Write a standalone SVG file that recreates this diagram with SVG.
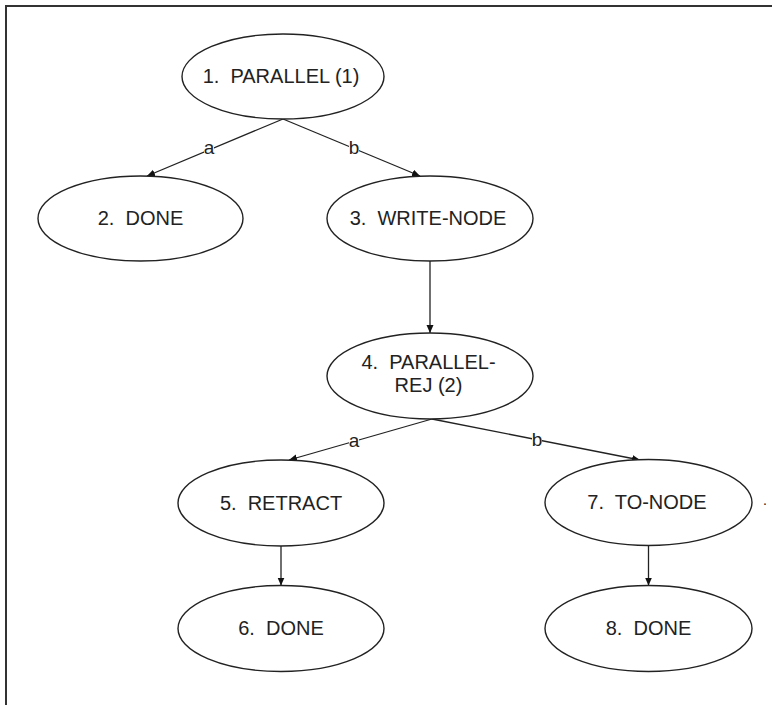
<svg xmlns="http://www.w3.org/2000/svg" width="772" height="705" viewBox="0 0 772 705">
<style>
.node ellipse{fill:#fff;stroke:#222;stroke-width:1.4}
.node text{font-family:"Liberation Sans",Arial,sans-serif;font-size:20px;fill:#222;text-anchor:middle}
.edge{stroke:#222;stroke-width:1.3;fill:none}
.lbl{font-family:"Liberation Sans",Arial,sans-serif;font-size:19px;fill:#222;text-anchor:middle}
.lblbg{fill:#fff}
</style>
<defs>
<marker id="arr" markerWidth="9" markerHeight="8" refX="8" refY="3.5" orient="auto" markerUnits="userSpaceOnUse">
<path d="M0,0 L8,3.5 L0,7 z" fill="#111"/>
</marker>
</defs>
<rect x="0" y="0" width="772" height="705" fill="#fff"/>
<path d="M6,705 L6,6 L772,6" fill="none" stroke="#333" stroke-width="2"/>
<g id="connectors">
<line class="edge" x1="283" y1="119" x2="147" y2="176" marker-end="url(#arr)"/>
<line class="edge" x1="283" y1="119" x2="420" y2="176" marker-end="url(#arr)"/>
<line class="edge" x1="430" y1="261" x2="430" y2="333" marker-end="url(#arr)"/>
<line class="edge" x1="432" y1="419" x2="289" y2="460" marker-end="url(#arr)"/>
<line class="edge" x1="432" y1="419" x2="640" y2="460" marker-end="url(#arr)"/>
<line class="edge" x1="281" y1="546" x2="281" y2="585.5" marker-end="url(#arr)"/>
<line class="edge" x1="648.5" y1="545.5" x2="648.5" y2="585.5" marker-end="url(#arr)"/>
<rect class="lblbg" x="204" y="141" width="10" height="12"/>
<text class="lbl" x="209" y="154">a</text>
<rect class="lblbg" x="349" y="138" width="10" height="16"/>
<text class="lbl" x="354" y="154">b</text>
<rect class="lblbg" x="349" y="434" width="10" height="12"/>
<text class="lbl" x="354" y="447">a</text>
<rect class="lblbg" x="532" y="430" width="10" height="16"/>
<text class="lbl" x="537" y="446">b</text>
</g>
<g id="n1" class="node"><ellipse cx="283" cy="76.5" rx="101" ry="42.5"/><text x="281" y="83" xml:space="preserve">1.  PARALLEL (1)</text></g>
<g id="n2" class="node"><ellipse cx="140.5" cy="218.5" rx="102.5" ry="42.5"/><text x="140.5" y="225" xml:space="preserve">2.  DONE</text></g>
<g id="n3" class="node"><ellipse cx="430" cy="218.5" rx="103" ry="42.5"/><text x="428" y="225" xml:space="preserve">3.  WRITE-NODE</text></g>
<g id="n4" class="node"><ellipse cx="430" cy="376" rx="103" ry="43"/><text x="428.5" y="368.5" xml:space="preserve">4.  PARALLEL-</text><text x="428.5" y="392">REJ (2)</text></g>
<g id="n5" class="node"><ellipse cx="281" cy="503" rx="103" ry="43"/><text x="281" y="509.5" xml:space="preserve">5.  RETRACT</text></g>
<g id="n7" class="node"><ellipse cx="648.5" cy="502.5" rx="103.5" ry="43"/><text x="647" y="509" xml:space="preserve">7.  TO-NODE</text></g>
<g id="n6" class="node"><ellipse cx="281" cy="628.5" rx="103" ry="43"/><text x="281" y="635" xml:space="preserve">6.  DONE</text></g>
<g id="n8" class="node"><ellipse cx="648.5" cy="628.5" rx="103.5" ry="43"/><text x="648.5" y="635" xml:space="preserve">8.  DONE</text></g>
<text x="765" y="505" font-family="Liberation Sans, Arial, sans-serif" font-size="14" fill="#222" text-anchor="middle">.</text>
</svg>
